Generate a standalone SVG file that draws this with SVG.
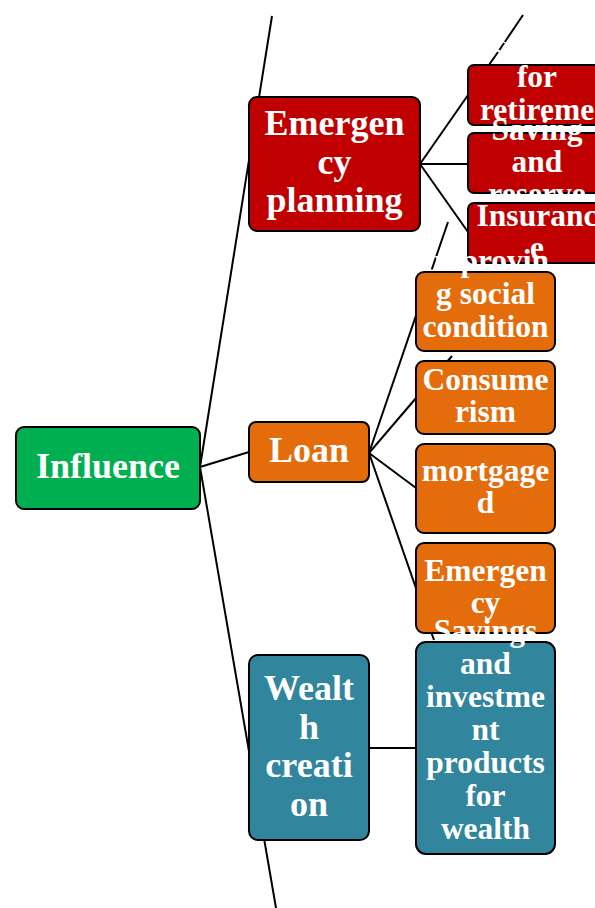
<svg xmlns="http://www.w3.org/2000/svg" width="595" height="908" viewBox="0 0 595 908">
<style>
.box{stroke:#000;stroke-width:2}
.g{fill:#00B050}.o{fill:#E46C0A}.r{fill:#C00000}.t{fill:#31859C}
text{font-family:"Liberation Serif","Times New Roman",serif;font-weight:bold;fill:#fff;text-anchor:middle}
.l1{font-size:36px}.l2{font-size:31.5px}
.c line{stroke:#000;stroke-width:2;fill:none}
</style>
<rect width="595" height="908" fill="#fff"/>
<g id="connectors" class="c">
<line x1="200" y1="467" x2="272" y2="16"/>
<line x1="200" y1="467" x2="276" y2="908"/>
<line x1="200" y1="467" x2="249" y2="452"/>
<line x1="420" y1="164" x2="468" y2="164"/>
<line x1="420" y1="164" x2="468" y2="232"/>
<line x1="420" y1="164" x2="498" y2="52"/>
<line x1="499.4" y1="50" x2="504.1" y2="43"/>
<line x1="504.8" y1="42" x2="523" y2="15"/>
<line x1="369" y1="453" x2="448" y2="222"/>
<line x1="369" y1="453" x2="452" y2="356"/>
<line x1="369" y1="453" x2="416" y2="488"/>
<line x1="369" y1="453" x2="434" y2="640"/>
<line x1="369" y1="748" x2="416" y2="748"/>
</g>
<g id="influence"><rect class="box g" x="16" y="427" width="184" height="82" rx="8"/><text class="l1" x="108" y="478">Influence</text></g>
<g id="emergency-planning"><rect class="box r" x="249" y="97" width="171" height="134" rx="8"/><text class="l1" x="334.5" y="135">Emergen</text><text class="l1" x="334.5" y="173.5">cy</text><text class="l1" x="334.5" y="212">planning</text></g>
<g id="retirement"><rect class="box r" x="468" y="65" width="140" height="60" rx="6"/><text class="l2" x="537" y="87">for</text><text class="l2" x="537" y="119.5">retireme</text></g>
<g id="saving-reserve"><rect class="box r" x="468" y="133" width="140" height="60" rx="6"/><text class="l2" x="537" y="139.5">Saving</text><text class="l2" x="537" y="172">and</text><text class="l2" x="537" y="204">reserve</text></g>
<g id="insurance"><rect class="box r" x="468" y="203" width="140" height="60" rx="6"/><text class="l2" x="537" y="225.5">Insuranc</text><text class="l2" x="537" y="257.5">e</text></g>
<g id="loan"><rect class="box o" x="249" y="422" width="120" height="60" rx="7"/><text class="l1" x="309" y="462">Loan</text></g>
<g id="improving"><rect class="box o" x="416" y="272" width="139" height="79" rx="8"/><text class="l2" x="485.5" y="271">Improvin</text><text class="l2" x="485.5" y="303.5">g social</text><text class="l2" x="485.5" y="336.5">condition</text></g>
<g id="consumerism"><rect class="box o" x="416" y="361" width="139" height="73" rx="8"/><text class="l2" x="485.5" y="390">Consume</text><text class="l2" x="485.5" y="422">rism</text></g>
<g id="mortgage"><rect class="box o" x="416" y="444" width="139" height="89" rx="8"/><text class="l2" x="485.5" y="480.5">mortgage</text><text class="l2" x="485.5" y="512.5">d</text></g>
<g id="emergency"><rect class="box o" x="416" y="543" width="139" height="90" rx="8"/><text class="l2" x="485.5" y="580.5">Emergen</text><text class="l2" x="485.5" y="612.5">cy</text></g>
<g id="wealth-creation"><rect class="box t" x="249" y="655" width="120" height="185" rx="9"/><text class="l1" x="309" y="700">Wealt</text><text class="l1" x="309" y="738.5">h</text><text class="l1" x="309" y="777">creati</text><text class="l1" x="309" y="815.5">on</text></g>
<g id="savings-investment"><rect class="box t" x="416" y="642" width="139" height="212" rx="10"/><text class="l2" x="485.5" y="641">Savings</text><text class="l2" x="485.5" y="674">and</text><text class="l2" x="485.5" y="707">investme</text><text class="l2" x="485.5" y="740">nt</text><text class="l2" x="485.5" y="773">products</text><text class="l2" x="485.5" y="806">for</text><text class="l2" x="485.5" y="839">wealth</text></g>
</svg>
